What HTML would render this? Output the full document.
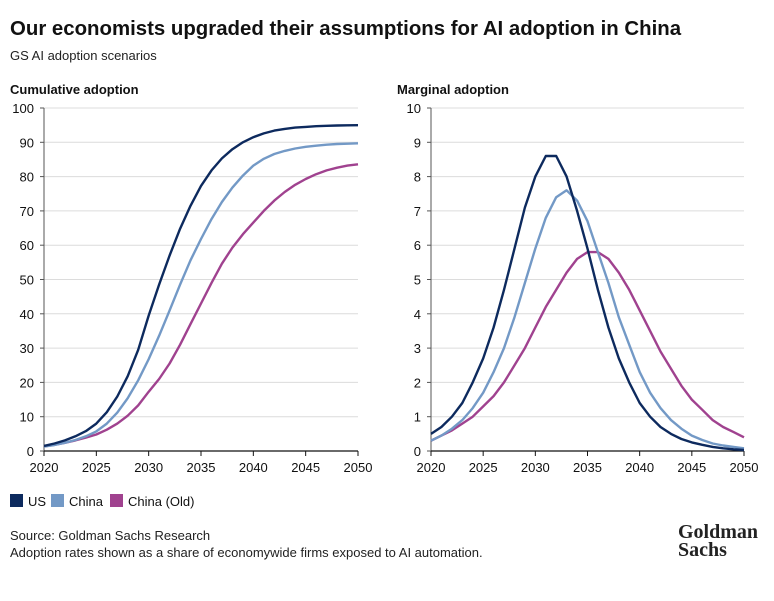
<!DOCTYPE html>
<html><head><meta charset="utf-8"><style>
body{margin:0;background:#fff;font-family:"Liberation Sans",sans-serif;}
svg text{font-family:"Liberation Sans",sans-serif;}
</style></head><body>
<svg id="c" width="774" height="596" xmlns="http://www.w3.org/2000/svg">
<text x="10" y="35" font-size="20.4" font-weight="bold" fill="#111">Our economists upgraded their assumptions for AI adoption in China</text>
<text x="10" y="60" font-size="13" fill="#222">GS AI adoption scenarios</text>
<text x="10" y="94" font-size="13" font-weight="bold" fill="#111">Cumulative adoption</text>
<text x="397" y="94" font-size="13" font-weight="bold" fill="#111">Marginal adoption</text>
<g id="left"></g>
<g id="right"></g>
<g>
<rect x="10" y="494" width="13" height="13" fill="#0d2a5e"/>
<text x="28" y="506" font-size="13" fill="#111">US</text>
<rect x="51" y="494" width="13" height="13" fill="#7399c6"/>
<text x="69" y="506" font-size="13" fill="#111">China</text>
<rect x="110" y="494" width="13" height="13" fill="#a0428f"/>
<text x="128" y="506" font-size="13" fill="#111">China (Old)</text>
</g>
<text x="10" y="540" font-size="13" fill="#222">Source: Goldman Sachs Research</text>
<text x="10" y="557" font-size="13" fill="#222">Adoption rates shown as a share of economywide firms exposed to AI automation.</text>
<text x="678" y="538" font-size="20" font-weight="bold" fill="#222" style="font-family:'Liberation Serif',serif">Goldman</text>
<text x="678" y="556" font-size="20" font-weight="bold" fill="#222" style="font-family:'Liberation Serif',serif">Sachs</text>
</svg>
<script>
const years=[];for(let y=2020;y<=2050;y++)years.push(y);
const usCum=[1.5,2.2,3.1,4.3,5.8,8.0,11.3,15.9,21.8,29.5,39.5,48.5,57,64.8,71.5,77.3,81.8,85.3,88.0,90.0,91.5,92.6,93.4,93.9,94.3,94.5,94.7,94.8,94.9,94.95,95];
const chinaCum=[1.3,1.75,2.4,3.2,4.3,5.7,8.0,11.2,15.4,20.6,26.8,33.6,41.0,48.5,55.6,61.8,67.6,72.6,76.8,80.3,83.2,85.2,86.6,87.5,88.2,88.7,89.0,89.3,89.5,89.6,89.7];
const oldCum=[1.3,1.8,2.4,3.1,3.9,4.8,6.2,8.0,10.3,13.3,17.3,21,25.5,31,37,43,49,54.6,59.3,63.2,66.6,70,73,75.5,77.6,79.3,80.7,81.8,82.6,83.2,83.6];
const usMarg=[0.5,0.7,1.0,1.4,2.0,2.7,3.6,4.7,5.9,7.1,8.0,8.6,8.6,8.0,7.0,5.9,4.7,3.6,2.7,2.0,1.4,1.0,0.7,0.5,0.35,0.25,0.18,0.12,0.08,0.05,0.03];
const chinaMarg=[0.3,0.45,0.65,0.9,1.25,1.7,2.3,3.0,3.9,4.9,5.9,6.8,7.4,7.6,7.3,6.7,5.8,4.9,3.9,3.1,2.3,1.7,1.25,0.9,0.65,0.45,0.32,0.22,0.16,0.12,0.08];
const oldMarg=[0.3,0.45,0.6,0.8,1.0,1.3,1.6,2.0,2.5,3.0,3.6,4.2,4.7,5.2,5.6,5.8,5.8,5.6,5.2,4.7,4.1,3.5,2.9,2.4,1.9,1.5,1.2,0.9,0.7,0.55,0.4];
const xTicks=[2020,2025,2030,2035,2040,2045,2050];
const leftTicks=[0,10,20,30,40,50,60,70,80,90,100];
const rightTicks=[0,1,2,3,4,5,6,7,8,9,10];
const NS="http://www.w3.org/2000/svg";
function mk(parent,tag,attrs){const e=document.createElementNS(NS,tag);for(const k in attrs)e.setAttribute(k,attrs[k]);parent.appendChild(e);return e;}
function panel(g,x0,x1,ymax,ticks,series){
  const y0=451,y1=108;
  const X=v=>x0+(v-2020)/30*(x1-x0);
  const Y=v=>y0-v/ymax*(y0-y1);
  ticks.forEach(t=>{
    if(t>0){const gl=mk(g,'line',{x1:x0,x2:x1,y1:Y(t),y2:Y(t),stroke:'#dcdcdc','stroke-width':1});
      
      }
    const tk=mk(g,'line',{x1:x0-4,x2:x0,y1:Y(t),y2:Y(t),stroke:'#555'});
    
    
    const e=mk(g,'text',{x:x0-10,y:Y(t)+5,'font-size':13,'text-anchor':'end',fill:'#111'});e.textContent=t;
    
    });
  const ya=mk(g,'line',{x1:x0,x2:x0,y1:y1,y2:y0,stroke:'#555','stroke-width':1});
  
  
  xTicks.forEach(t=>{const e=mk(g,'text',{x:X(t),y:472,'font-size':13,'text-anchor':'middle',fill:'#111'});e.textContent=t;
    
    
    const l=mk(g,'line',{x1:X(t),x2:X(t),y1:y0,y2:y0+5,stroke:'#111'});
    
    });
  const ax=mk(g,'line',{x1:x0,x2:x1,y1:y0,y2:y0,stroke:'#111','stroke-width':1.2});
  
  
  series.forEach(s=>{const p=mk(g,'path',{d:s.v.map((v,i)=>(i?'L':'M')+X(years[i]).toFixed(1)+','+Y(v).toFixed(1)).join(''),fill:'none',stroke:s.c,'stroke-width':2.4,'stroke-linejoin':'round'});
    
    });
}
panel(document.getElementById('left'),44,358,100,leftTicks,[{v:oldCum,c:'#a0428f',n:'line-china-old-cumulative'},{v:chinaCum,c:'#7399c6',n:'line-china-cumulative'},{v:usCum,c:'#0d2a5e',n:'line-us-cumulative'}]);
panel(document.getElementById('right'),431,744,10,rightTicks,[{v:oldMarg,c:'#a0428f',n:'line-china-old-marginal'},{v:chinaMarg,c:'#7399c6',n:'line-china-marginal'},{v:usMarg,c:'#0d2a5e',n:'line-us-marginal'}]);
</script>
</body></html>
